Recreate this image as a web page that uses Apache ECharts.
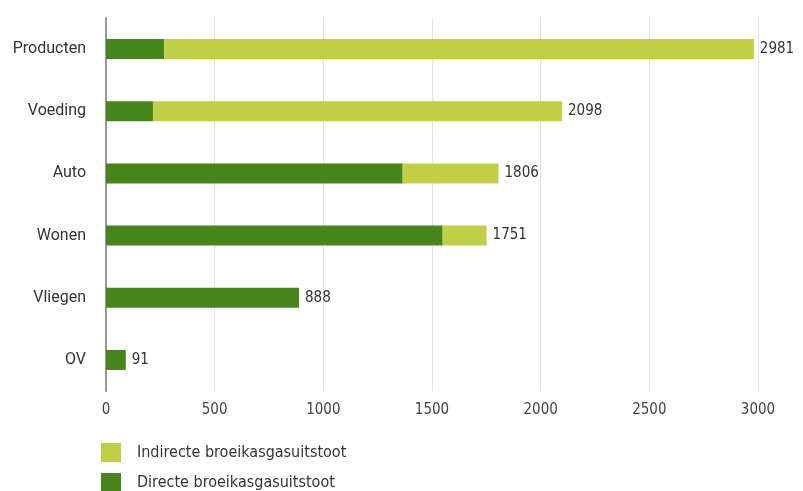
<!DOCTYPE html>
<html><head><meta charset="utf-8">
<script src="https://cdn.jsdelivr.net/npm/echarts@6/dist/echarts.min.js"></script>
<style>html,body{margin:0;padding:0;background:#fff}#c{width:803px;height:491px}</style>
</head><body><div id="c"></div>
<script>
var categories = ['Producten','Voeding','Auto','Wonen','Vliegen','OV'];
var direct = [268, 216, 1365, 1549, 888, 91];
var totals = [2981, 2098, 1806, 1751, 888, 91];
var indirect = totals.map(function(t,i){return t - direct[i];});
var xTicks = [0,500,1000,1500,2000,2500,3000];
var seriesNames = ['Indirecte broeikasgasuitstoot','Directe broeikasgasuitstoot'];

var narrow = 'DejaVu Sans Condensed';
var chart = echarts.init(document.getElementById('c'));
function lg(name, top){
  return {orient:'vertical',left:101,top:top,padding:0,itemWidth:20,itemHeight:19,
    data:[name],icon:'rect',selectedMode:false,
    textStyle:{fontFamily:narrow,fontSize:16,color:'#333',padding:[0,0,0,11]}};
}
chart.setOption({
  animation:false,
  textStyle:{fontFamily:'Roboto'},
  grid:{left:106,right:45,top:18,bottom:100,containLabel:false},
  legend:[lg(seriesNames[0],443), lg(seriesNames[1],473)],
  xAxis:{
    type:'value',min:xTicks[0],max:xTicks[xTicks.length-1],interval:500,
    axisLine:{show:false},axisTick:{show:false},
    splitLine:{lineStyle:{color:'#e3e3e3',width:1}},
    axisLabel:{color:'#444',fontSize:15,fontFamily:narrow,margin:12,
      formatter:function(v){return String(v);}}
  },
  yAxis:{
    type:'category',data:categories,inverse:true,
    axisLine:{lineStyle:{color:'#999',width:2}},axisTick:{show:false},
    axisLabel:{color:'#333',fontSize:16,margin:20}
  },
  series:[
    {name:seriesNames[1],type:'bar',stack:'a',data:direct,barWidth:20,
     itemStyle:{color:'#47841c'}},
    {name:seriesNames[0],type:'bar',stack:'a',data:indirect,barWidth:20,
     itemStyle:{color:'#bfcf47'},
     label:{show:true,position:'right',distance:6,color:'#333',fontSize:15,fontFamily:narrow,
       formatter:function(p){return String(totals[p.dataIndex]);}}}
  ]
});
</script></body></html>
